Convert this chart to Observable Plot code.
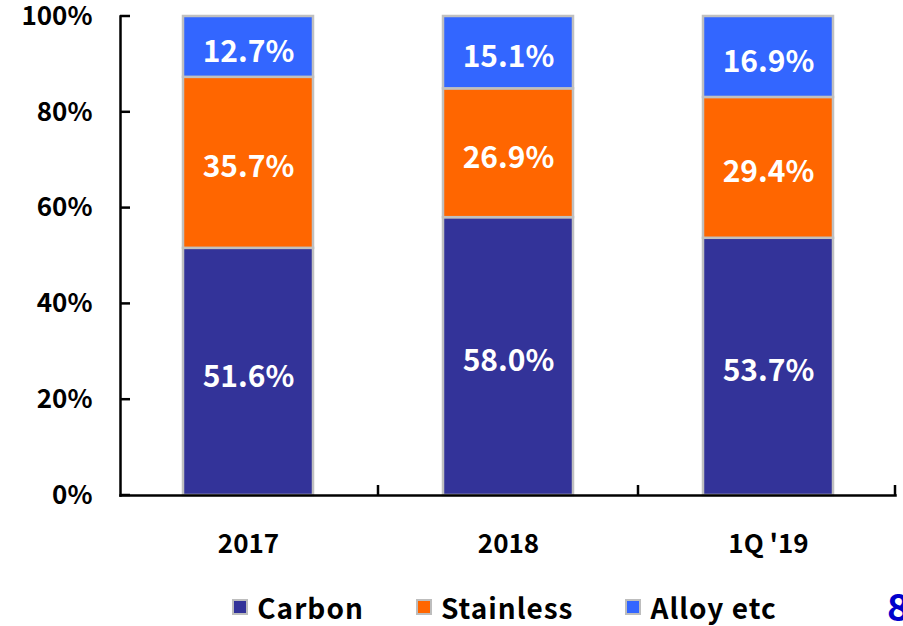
<!DOCTYPE html>
<html><head><meta charset="utf-8">
<script src="https://cdn.jsdelivr.net/npm/d3@7"></script>
<script src="https://cdn.jsdelivr.net/npm/@observablehq/plot@0.6"></script>
<style>
body{margin:0;background:#fff;font-family:"Noto Sans CJK KR","Noto Sans",sans-serif;}
#wrap{position:relative;width:903px;height:626px;overflow:hidden;}
#legend{position:absolute;top:589px;left:117px;width:775px;display:flex;justify-content:center;align-items:center;gap:52px;font-weight:bold;font-size:28px;letter-spacing:1px;color:#000;line-height:36px;}
#legend .item{display:flex;align-items:center;gap:9px;}
#legend .sw{width:12px;height:12px;border:2.5px solid #bdbdbd;}
#page{position:absolute;left:887px;top:582px;font-weight:bold;font-size:38px;color:#0000cc;line-height:46px;}
</style></head><body><div id="wrap"></div>
<script>
const categories = ["2017", "2018", "1Q '19"];
const series = ["Carbon", "Stainless", "Alloy etc"];
const carbon = [51.6, 58.0, 53.7];
const stainless = [35.7, 26.9, 29.4];
const alloy = [12.7, 15.1, 16.9];
const colors = ["#333399", "#ff6600", "#3366ff"];
const yTicks = [0, 20, 40, 60, 80, 100];
const pageNumber = "8";

const seriesValues = [carbon, stainless, alloy];
const data = series.flatMap((s, i) => categories.map((c, j) => ({category: c, series: s, value: seriesValues[i][j]})));

const font = '"Noto Sans CJK KR","Noto Sans",sans-serif';
const plot = Plot.plot({
  width: 903, height: 626,
  marginLeft: 120, marginRight: 8, marginTop: 16, marginBottom: 131,
  style: {fontFamily: font, background: "white", overflow: "visible"},
  x: {domain: categories, paddingInner: 0.5, paddingOuter: 0.24, label: null},
  y: {domain: [0, 100], label: null},
  color: {domain: series, range: colors},
  marks: [
    Plot.barY(data, {x: "category", y: "value", fill: "series", stroke: "#c0c0c0", strokeWidth: 2.5}),
    Plot.text(data, Plot.stackY({x: "category", y: "value", z: "series",
      text: d => d.value.toFixed(1) + "%", fill: "white", fontSize: 30, fontWeight: 600, dy: 5})),
    Plot.axisY({ticks: yTicks, tickSize: 0, tickPadding: 28, tickFormat: d => d + "%", fontSize: 26, fontWeight: "bold", fill: "black"}),
    Plot.axisX({tickSize: 0, tickPadding: 39, fontSize: 26, fontWeight: "bold", fill: "black"}),
    Plot.frame({anchor: "left", strokeWidth: 2.5, stroke: "black"}),
    Plot.frame({anchor: "bottom", strokeWidth: 2.5, stroke: "black"})
  ]
});

// inward ticks drawn from the plot's own scales
const xs = plot.scale("x"), ys = plot.scale("y");
const svg = d3.select(plot);
const g = svg.append("g").attr("stroke", "black").attr("stroke-width", 2.5);
const x0 = xs.range[0];
yTicks.forEach(t => {
  const y = ys.apply(t);
  g.append("line").attr("x1", x0).attr("x2", x0 + 10).attr("y1", y).attr("y2", y);
});
const yBase = ys.apply(0);
categories.forEach((c, i) => {
  const xb = i === categories.length - 1 ? xs.range[1] : (xs.apply(c) + xs.bandwidth + xs.apply(categories[i + 1])) / 2;
  g.append("line").attr("x1", xb).attr("x2", xb).attr("y1", yBase).attr("y2", yBase - 10);
});

const wrap = document.getElementById("wrap");
wrap.appendChild(plot);
const legend = document.createElement("div");
legend.id = "legend";
series.forEach((s, i) => {
  const item = document.createElement("div");
  item.className = "item";
  const sw = document.createElement("span");
  sw.className = "sw"; sw.style.background = colors[i];
  const t = document.createElement("span");
  t.textContent = s;
  item.append(sw, t);
  legend.appendChild(item);
});
wrap.appendChild(legend);
const page = document.createElement("div");
page.id = "page"; page.textContent = pageNumber;
wrap.appendChild(page);
</script></body></html>
